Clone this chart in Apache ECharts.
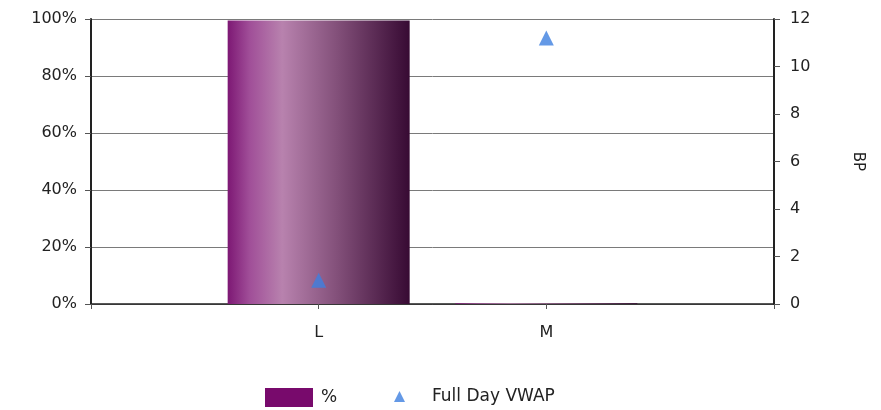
<!DOCTYPE html>
<html>
<head>
<meta charset="utf-8">
<script src="https://cdn.jsdelivr.net/npm/echarts@6/dist/echarts.min.js"></script>
<style>
html, body { margin: 0; padding: 0; background: #fff; }
#chart { width: 881px; height: 410px; }
</style>
</head>
<body>
<div id="chart"></div>
<script>
// categories (empty ends give the half-gap padding seen in the original)
var categories = ['', 'L', 'M', ''];
var pctValues = [null, 99.5, 0.3, null];
var vwapValues = [null, 1.0, 11.2, null];
var pctTicks = [0, 20, 40, 60, 80, 100];
var bpTicks = [0, 2, 4, 6, 8, 10, 12];

var font = '"DejaVu Sans", sans-serif';

function buildChart(){
    var myChart = echarts.init(document.getElementById('chart'));
    var barGradient = new echarts.graphic.LinearGradient(0, 0, 1, 0, [
        {offset: 0, color: '#7d1874'},
        {offset: 0.12, color: '#a04e98'},
        {offset: 0.3, color: '#b882ae'},
        {offset: 0.6, color: '#83507a'},
        {offset: 1, color: '#370a33'}
    ]);
    var option = {
        animation: false,
        grid: {left: 91, right: 107, top: 19, bottom: 106},
        legend: [{
            left: 265, top: 388, padding: 0,
            itemWidth: 48, itemHeight: 19, itemGap: 10,
            icon: 'rect',
            textStyle: {fontFamily: font, fontSize: 17, color: '#222', padding: [0, 0, 0, 3]},
            data: [{name: '%', itemStyle: {color: '#780a6c'}}]
        }, {
            left: 394, top: 388, padding: 0,
            itemWidth: 11, itemHeight: 11, itemGap: 10,
            textStyle: {fontFamily: font, fontSize: 17, color: '#222', padding: [0, 0, 0, 22]},
            data: [{name: 'Full Day VWAP', icon: 'triangle', itemStyle: {color: '#3d7fe0'}}]
        }],
        xAxis: {
            type: 'category',
            data: categories,
            boundaryGap: false,
            axisLine: {lineStyle: {color: '#222', width: 1.5}},
            axisTick: {show: true, length: 5, lineStyle: {color: '#555'}},
            axisLabel: {fontFamily: font, fontSize: 16, color: '#222', margin: 21},
            splitLine: {show: false}
        },
        yAxis: [{
            type: 'value',
            min: pctTicks[0], max: pctTicks[pctTicks.length - 1], interval: 20,
            axisLine: {show: true, lineStyle: {color: '#222', width: 2}},
            axisTick: {show: true, length: 6, inside: false, lineStyle: {color: '#555'}},
            axisLabel: {fontFamily: font, fontSize: 16, color: '#222', margin: 14, formatter: '{value}%'},
            splitLine: {show: true, lineStyle: {color: '#7a7a7a', width: 1}}
        }, {
            type: 'value',
            name: 'BP',
            nameLocation: 'middle',
            nameRotate: -90,
            nameGap: 76,
            nameTextStyle: {fontFamily: font, fontSize: 15, color: '#222'},
            min: bpTicks[0], max: bpTicks[bpTicks.length - 1], interval: 2,
            axisLine: {show: true, lineStyle: {color: '#222', width: 2}},
            axisTick: {show: true, length: 6, lineStyle: {color: '#555'}},
            axisLabel: {fontFamily: font, fontSize: 16, color: '#222', margin: 16},
            splitLine: {show: false}
        }],
        series: [{
            name: '%',
            type: 'bar',
            yAxisIndex: 0,
            barWidth: 182,
            data: pctValues,
            itemStyle: {color: barGradient}
        }, {
            name: 'Full Day VWAP',
            type: 'scatter',
            yAxisIndex: 1,
            symbol: 'triangle',
            symbolSize: 15,
            data: vwapValues,
            itemStyle: {color: '#3d7fe0'}
        }]
    };
    myChart.setOption(option);
}

buildChart();
</script>
</body>
</html>
